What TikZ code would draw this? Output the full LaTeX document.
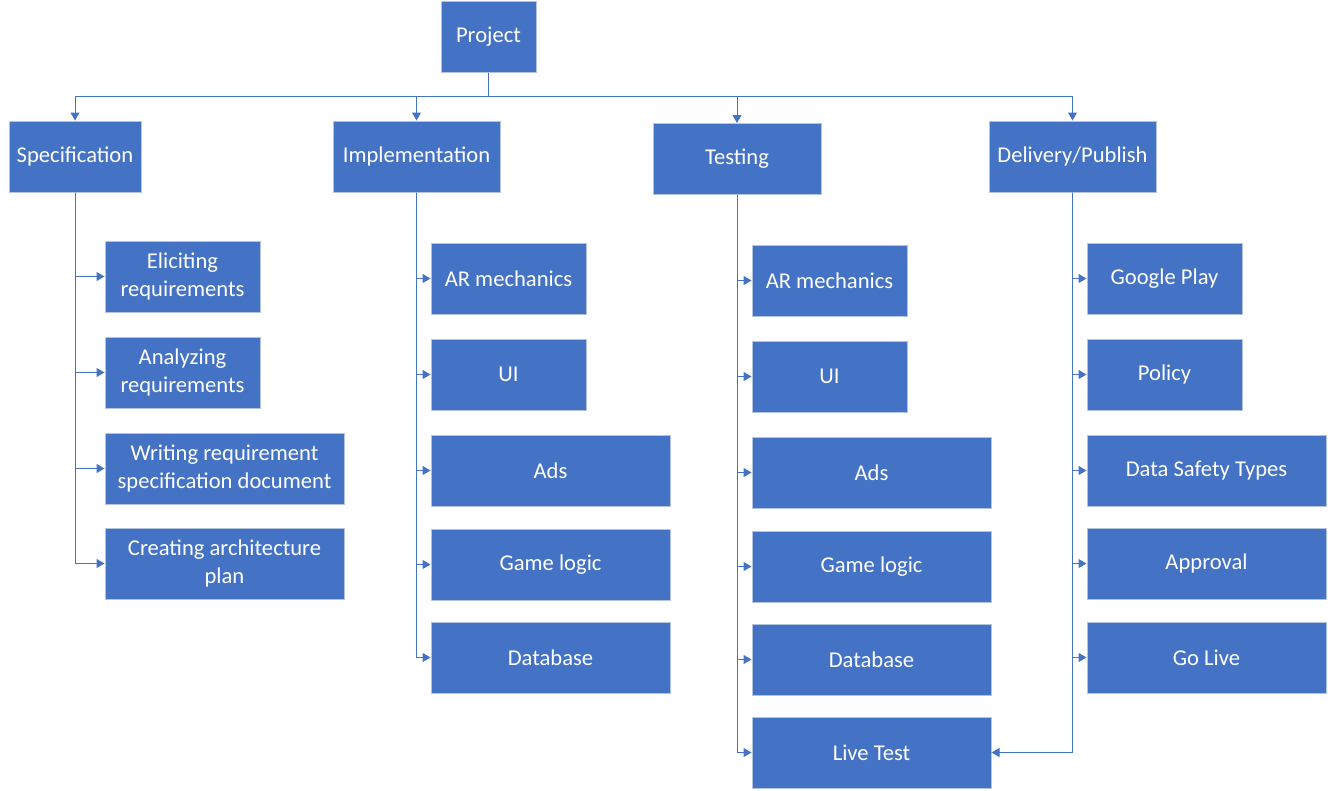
\documentclass[tikz,border=0pt]{standalone}
\usepackage{fontspec}
\setmainfont{Carlito}
\usetikzlibrary{arrows.meta}
\definecolor{boxblue}{HTML}{4472C4}
\definecolor{boxedge}{HTML}{B4C3DE}

\begin{document}
\begin{tikzpicture}[x=1pt, y=-1pt,
        box/.style={draw=boxedge, line width=1pt, fill=boxblue, text=white,
            minimum height=71pt, inner sep=0pt, align=center,
            font=\fontsize{22.6}{28.5}\selectfont},
        smallbox/.style={box, minimum width=155pt},
        widebox/.style={box, minimum width=239pt},
        link/.style={draw=boxblue, line width=1pt},
        arr/.style={link, -{Triangle[length=8pt, width=9pt]}}]
        \useasboundingbox (0,0) rectangle (1328,790);

        % top node
        \node[box, minimum width=95pt] (proj) at (488.5,36.5) {Project};
        \coordinate (bus) at (488.5,96);

        % Specification branch
        \node[box, minimum width=132pt] (spec) at (75,156.5) {Specification};
        \node[smallbox] (elic) at (182.5,276.5) {Eliciting\\requirements};
        \node[smallbox] (anal) at (182.5,372.5) {Analyzing\\requirements};
        \node[widebox] (writ) at (224.5,468.5) {Writing requirement\\specification document};
        \node[widebox] (arch) at (224.5,563.5) {Creating architecture\\plan};

        % Implementation branch
        \node[box, minimum width=167pt] (impl) at (416.5,156.5) {Implementation};
        \node[smallbox] (iar) at (508.5,278.5) {AR mechanics};
        \node[smallbox] (iui) at (508.5,374.5) {UI};
        \node[widebox] (iads) at (550.5,470.5) {Ads};
        \node[widebox] (igame) at (550.5,564.5) {Game logic};
        \node[widebox] (idb) at (550.5,657.5) {Database};

        % Testing branch
        \node[box, minimum width=168pt] (test) at (737,159) {Testing};
        \node[smallbox] (tar) at (829.5,280.5) {AR mechanics};
        \node[smallbox] (tui) at (829.5,376.5) {UI};
        \node[widebox] (tads) at (871.5,472.5) {Ads};
        \node[widebox] (tgame) at (871.5,566.5) {Game logic};
        \node[widebox] (tdb) at (871.5,659.5) {Database};
        \node[widebox] (live) at (871.5,752.5) {Live Test};

        % Delivery branch
        \node[box, minimum width=167pt] (deliv) at (1072.5,156.5) {Delivery/Publish};
        \node[smallbox] (gplay) at (1164.5,278.5) {Google Play};
        \node[smallbox] (policy) at (1164.5,374.5) {Policy};
        \node[widebox] (safety) at (1206.5,470.5) {Data Safety Types};
        \node[widebox] (approv) at (1206.5,563.5) {Approval};
        \node[widebox] (golive) at (1206.5,657.5) {Go Live};

        % connectors
        \draw[link] (proj.south) -- (bus);
        \foreach \b in {spec,impl,test,deliv}
            \draw[arr] (bus) -| (\b.north);
        \foreach \c in {elic,anal,writ,arch}
            \draw[arr] (spec.south) |- (\c.west);
        \foreach \c in {iar,iui,iads,igame,idb}
            \draw[arr] (impl.south) |- (\c.west);
        \foreach \c in {tar,tui,tads,tgame,tdb,live}
            \draw[arr] (test.south) |- (\c.west);
        \foreach \c in {gplay,policy,safety,approv,golive}
            \draw[arr] (deliv.south) |- (\c.west);
        \draw[arr] (deliv.south) |- (live.east);
    \end{tikzpicture}
\end{document}
